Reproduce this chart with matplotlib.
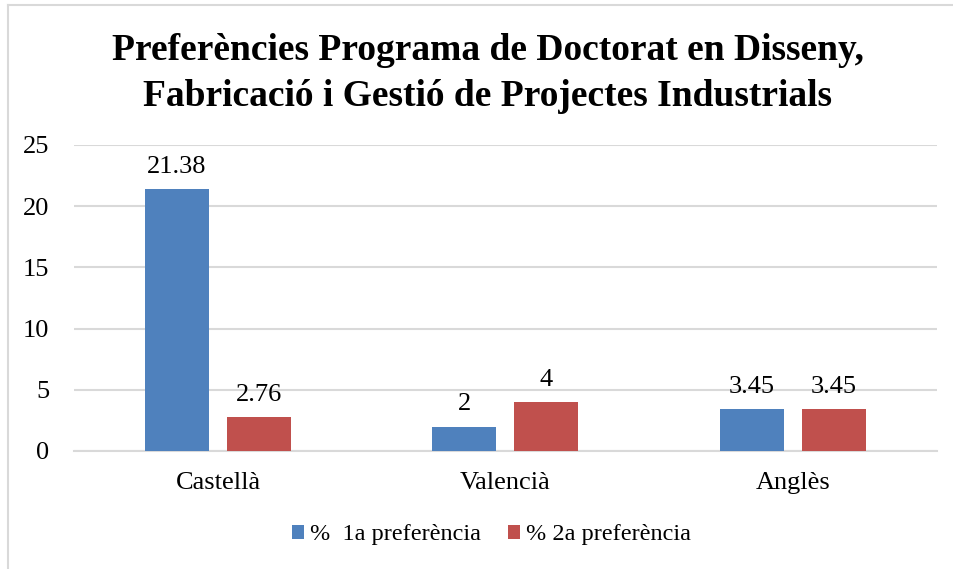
import numpy as np
import matplotlib
matplotlib.use("Agg")
import matplotlib.pyplot as plt
from matplotlib.lines import Line2D

# data
categories = ["Castellà", "Valencià", "Anglès"]
first_pref = [21.38, 2, 3.45]
second_pref = [2.76, 4, 3.45]
first_labels = ["21.38", "2", "3.45"]
second_labels = ["2.76", "4", "3.45"]
series_names = ["%  1a preferència", "% 2a preferència"]
y_ticks = [0, 5, 10, 15, 20, 25]

plt.rcParams['font.family'] = ['Liberation Serif', 'DejaVu Serif']

fig = plt.figure(figsize=(9.54, 5.69), dpi=100)
ax = fig.add_axes([0.0778, 0.2074, 0.904, 0.5378])

x = np.arange(len(categories))
w = 0.2226
off = 0.1426
b1 = ax.bar(x - off, first_pref, w, color="#4F81BD", label=series_names[0], zorder=3)
b2 = ax.bar(x + off, second_pref, w, color="#C0504D", label=series_names[1], zorder=3)

for bars, labels in ((b1, first_labels), (b2, second_labels)):
    for rect, lab in zip(bars, labels):
        ax.annotate(lab, (rect.get_x() + rect.get_width() / 2, rect.get_height()),
                    xytext=(0, 8), textcoords="offset points",
                    ha="center", va="bottom", fontsize=19)

ax.set_xlim(-0.5, 2.5)
ax.set_ylim(0, 25)
ax.set_yticks(y_ticks)
ax.set_xticks(x)
ax.set_xticklabels(categories)
ax.tick_params(axis="both", length=0, labelsize=19)
ax.tick_params(axis="y", pad=18)
ax.tick_params(axis="x", pad=15)
ax.grid(axis="y", color="#D9D9D9", linewidth=1.5, zorder=0)
for s in ["top", "right", "left"]:
    ax.spines[s].set_visible(False)
ax.spines["bottom"].set_color("#D9D9D9")
ax.spines["bottom"].set_linewidth(1.5)

fig.text(0.511, 0.871, "Preferències Programa de Doctorat en Disseny,\nFabricació i Gestió de Projectes Industrials",
         ha="center", va="center", fontsize=27, fontweight="bold", linespacing=1.38)

fig.legend(loc="center", bbox_to_anchor=(0.515, 0.06), ncol=2, frameon=False,
           fontsize=17.5, handlelength=0.5, handleheight=0.5, handletextpad=0.25,
           columnspacing=1.1)

# chart border (left and top visible)
fig.add_artist(Line2D([8 / 954, 8 / 954], [0, 1 - 5 / 569], color="#D9D9D9", linewidth=1.5))
fig.add_artist(Line2D([8 / 954, 1], [1 - 5 / 569, 1 - 5 / 569], color="#D9D9D9", linewidth=1.5))

fig.savefig("out.png", dpi=100)
